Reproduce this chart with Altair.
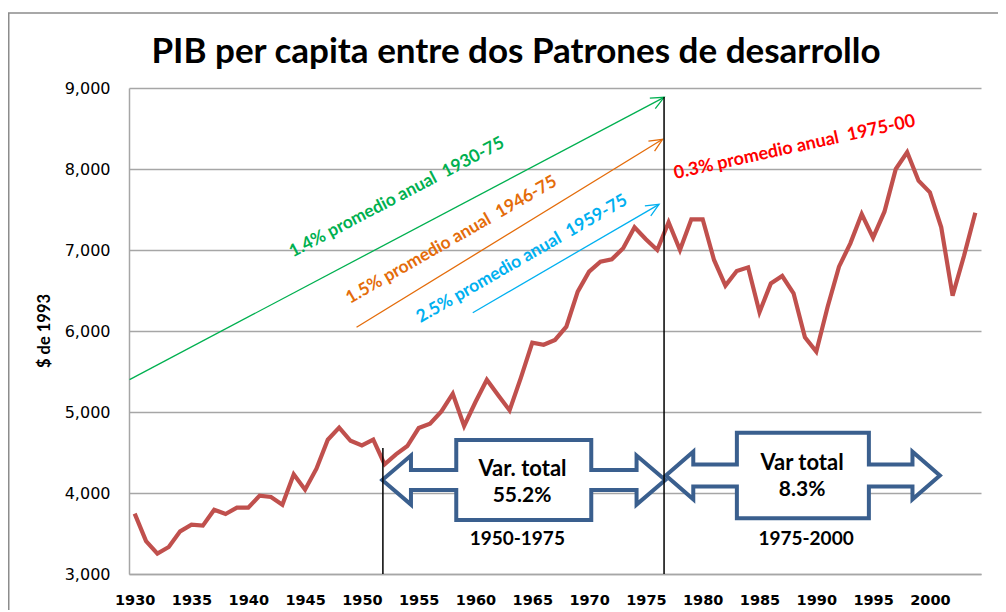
import math
import altair as alt
import pandas as pd

# ---------------- data ----------------
years = list(range(1930, 2005))
pib = [3745, 3407, 3251, 3333, 3527, 3609, 3597, 3794, 3741, 3819,
       3819, 3967, 3951, 3856, 4230, 4041, 4300, 4658, 4807, 4645,
       4588, 4658, 4354, 4477, 4580, 4802, 4856, 5008, 5226, 4827,
       5123, 5399, 5206, 5021, 5424, 5856, 5830, 5890, 6053, 6486,
       6733, 6856, 6885, 7021, 7280, 7132, 7000, 7342, 7000, 7379,
       7379, 6877, 6560, 6741, 6786, 6232, 6588, 6679, 6465, 5922,
       5745, 6300, 6794, 7082, 7444, 7152, 7473, 8000, 8206, 7856,
       7712, 7280, 6436, 6926, 7461]

x_ticks = list(range(1930, 2001, 5))
y_ticks = [3000, 4000, 5000, 6000, 7000, 8000, 9000]
y_title = "$ de 1993"

# growth arrows (start year/value -> end year/value)
arrow_x1 = [1929.55, 1949.53, 1959.76]
arrow_y1 = [5400, 6046, 6226]
arrow_x2 = [1976.6, 1976.47, 1976.16]
arrow_y2 = [8885, 8367, 7564]
arrow_col = ["#00B050", "#E46C0A", "#00B0F0"]

# sloped labels
slope_txt = ["1.4% promedio anual \u00a01930-75", "1.5% promedio anual \u00a01946-75",
             "2.5% promedio anual \u00a01959-75", "0.3% promedio anual \u00a01975-00"]
slope_x = [1953.08, 1957.9, 1964.1, 1988.1]
slope_y = [7648, 7123, 6889, 8265]
slope_ang = [27.6, 29.8, 29.9, 12.4]
slope_col = ["#00B050", "#E46C0A", "#00B0F0", "#FF0000"]
slope_fs = [17.5, 17.5, 17.5, 18]

# vertical separators
vline_x = [1951.85, 1976.6]
vline_top = [4556, 8889]

# double arrow callouts
callout_x = [1964.25, 1988.82]
callout_y = [4160, 4216]
callout_path = [
    "M-141.5,0L-112.8,-24.5L-112.8,-10L-67.5,-10L-67.5,-40L67.5,-40L67.5,-10L112.8,-10"
    "L112.8,-24.5L141.5,0L112.8,24.5L112.8,10L67.5,10L67.5,40L-67.5,40L-67.5,10"
    "L-112.8,10L-112.8,24.5Z",
    "M-137,0L-109.6,-23.8L-109.6,-11L-66,-11L-66,-42.8L66,-42.8L66,-11L109.6,-11"
    "L109.6,-23.8L137,0L109.6,23.8L109.6,11L66,11L66,42.8L-66,42.8L-66,11"
    "L-109.6,11L-109.6,23.8Z",
]

box_txt = ["Var. total", "55.2%", "1950-1975", "Var total", "8.3%", "1975-2000"]
box_x = [1964.14, 1964.1, 1963.68, 1988.75, 1988.75, 1989.1]
box_y = [4296, 3969, 3438, 4370, 4037, 3432]
box_fs = [22, 21, 19, 22, 21, 19]

# ---------------- layout ----------------
W, H = 852, 486
x_dom = [1929.5, 2004.5]
y_dom = [3000, 9000]
px_x = W / (x_dom[1] - x_dom[0])
px_y = H / (y_dom[1] - y_dom[0])

GRID = "#A6A6A6"

xs = alt.Scale(domain=x_dom, nice=False, zero=False)
ys = alt.Scale(domain=y_dom, nice=False, zero=False)

df = pd.DataFrame({"year": years, "pib": pib})

line = alt.Chart(df).mark_line(color="#C0504D", strokeWidth=4.2).encode(
    x=alt.X("year:Q", scale=xs, title=None,
            axis=alt.Axis(values=x_ticks, labelExpr="format(datum.value, 'd')")),
    y=alt.Y("pib:Q", scale=ys, title=None,
            axis=alt.Axis(values=y_ticks, labelExpr="format(datum.value, ',')")),
)

# y-axis title as rotated text beside the axis
ytitle = alt.Chart(pd.DataFrame({"t": [y_title]})).mark_text(
    font="Lato", fontWeight="bold", fontSize=16.5, color="black",
    angle=270, align="center", baseline="middle").encode(
    x=alt.value(-84), y=alt.value(H / 2), text="t:N",
)

ang = [360 - math.degrees(math.atan2((b2 - b1) * px_y, (a2 - a1) * px_x))
       for a1, b1, a2, b2 in zip(arrow_x1, arrow_y1, arrow_x2, arrow_y2)]
arr_df = pd.DataFrame({"x1": arrow_x1, "y1": arrow_y1, "x2": arrow_x2,
                       "y2": arrow_y2, "c": arrow_col, "ang": ang})

arrows = alt.Chart(arr_df).mark_rule(strokeWidth=1.3).encode(
    x=alt.X("x1:Q", scale=xs), x2="x2:Q",
    y=alt.Y("y1:Q", scale=ys), y2="y2:Q",
    color=alt.Color("c:N", scale=None),
)
heads = alt.Chart(arr_df).mark_point(
    shape="M-1,-0.45L0,0L-1,0.45", filled=False, size=676,
    strokeWidth=1.3, opacity=1).encode(
    x=alt.X("x2:Q", scale=xs),
    y=alt.Y("y2:Q", scale=ys),
    color=alt.Color("c:N", scale=None),
    angle=alt.Angle("ang:Q", scale=None),
)

sl_df = pd.DataFrame({"x": slope_x, "y": slope_y, "t": slope_txt,
                      "a": [360 - a for a in slope_ang], "c": slope_col,
                      "fs": slope_fs})
slope_labels = alt.Chart(sl_df).mark_text(
    font="Lato", fontWeight="bold", align="center",
    baseline="middle").encode(
    x=alt.X("x:Q", scale=xs),
    y=alt.Y("y:Q", scale=ys),
    text="t:N",
    color=alt.Color("c:N", scale=None),
    angle=alt.Angle("a:Q", scale=None),
    size=alt.Size("fs:Q", scale=None),
)

co_df = pd.DataFrame({"x": callout_x, "y": callout_y, "p": callout_path})
callouts = alt.Chart(co_df).mark_point(
    filled=True, fill="white", stroke="#3A5F8E", strokeWidth=4,
    size=4, opacity=1).encode(
    x=alt.X("x:Q", scale=xs),
    y=alt.Y("y:Q", scale=ys),
    shape=alt.Shape("p:N", scale=None),
)

bt_df = pd.DataFrame({"x": box_x, "y": box_y, "t": box_txt, "fs": box_fs})
box_labels = alt.Chart(bt_df).mark_text(
    font="Lato", fontWeight="bold", color="black", align="center",
    baseline="middle").encode(
    x=alt.X("x:Q", scale=xs),
    y=alt.Y("y:Q", scale=ys),
    text="t:N",
    size=alt.Size("fs:Q", scale=None),
)

vl_df = pd.DataFrame({"x": vline_x, "top": vline_top, "bottom": [3000, 3000]})
vlines = alt.Chart(vl_df).mark_rule(color="black", strokeWidth=1.5).encode(
    x=alt.X("x:Q", scale=xs),
    y=alt.Y("top:Q", scale=ys), y2="bottom:Q",
)

# outer chart-area border (decoration)
frame = alt.Chart(pd.DataFrame({"k": [0]})).mark_rect(
    filled=False, stroke="#8C8C8C", strokeWidth=1.5).encode(
    x=alt.value(-120.25), x2=alt.value(900),
    y=alt.value(-75), y2=alt.value(640),
)

chart = alt.layer(
    frame, line, ytitle, arrows, heads, slope_labels, callouts, vlines, box_labels
).properties(
    width=W, height=H,
    title=alt.TitleParams(
        "PIB per capita entre dos Patrones de desarrollo",
        font="Lato", fontSize=35, fontWeight="bold", color="black",
        anchor="middle", dx=-39, dy=107, offset=21, baseline="alphabetic"),
    padding={"left": 121, "top": 80, "right": 17, "bottom": 36},
    autosize=alt.AutoSizeParams(type="none"),
    background="white",
).configure_view(stroke=None).configure_axisX(
    grid=False, ticks=False, labelFont="DejaVu Sans", labelFontWeight="bold",
    labelFontSize=14.5, labelColor="black", labelPadding=19,
    domainColor=GRID, domainWidth=1.5, labelFlush=False,
).configure_axisY(
    grid=True, ticks=False, gridColor=GRID, gridWidth=1.5,
    domainColor=GRID, domainWidth=1.5,
    labelFont="DejaVu Sans", labelFontSize=16, labelColor="black",
    labelPadding=19,
)

chart.save("out.html", embed_options={"renderer": "svg", "actions": False})
